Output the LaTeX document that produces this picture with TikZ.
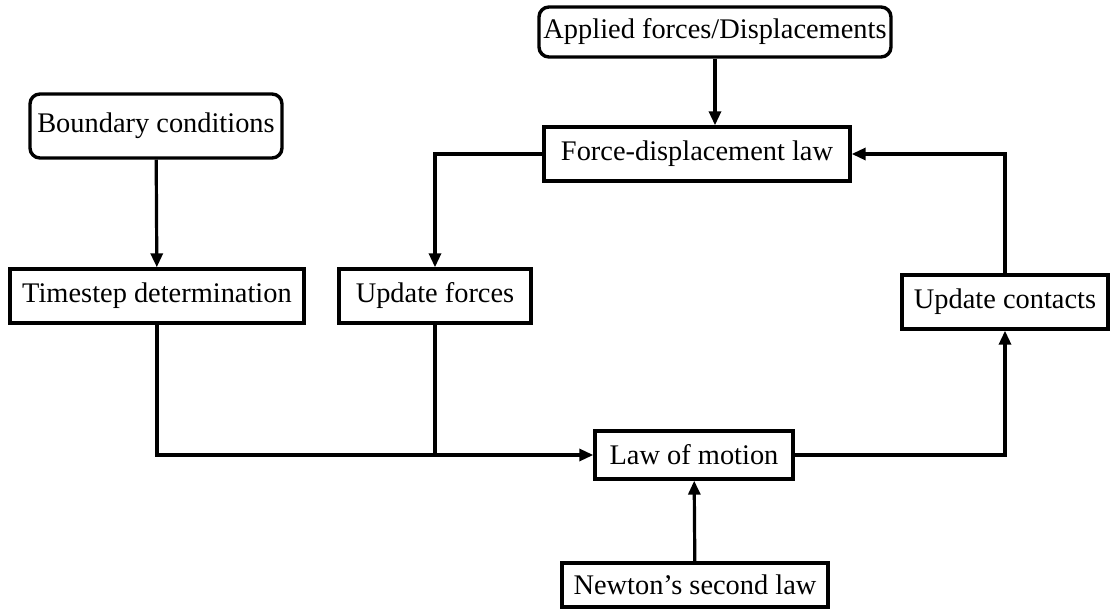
\documentclass[tikz,border=0pt]{standalone}
\usepackage{fontspec}
\setmainfont{Liberation Serif}
\usetikzlibrary{arrows.meta,positioning}

\begin{document}
\begin{tikzpicture}[x=0.5pt,y=-0.5pt,>={Triangle[length=7pt,width=6pt]},
  box/.style={draw,line width=1.7pt,inner sep=2pt,font=\fontsize{14.2}{16}\selectfont},
  rbox/.style={box,rounded corners=5pt},
  link/.style={line width=1.6pt}]
  \useasboundingbox (0,0) rectangle (1110,609);
% Inputs
  \node[rbox,minimum width=176pt,minimum height=25pt] (applied) at (715,32) {Applied forces/Displacements};
  \node[rbox,minimum width=126pt,minimum height=32pt] (boundary) at (156,126) {Boundary conditions};
% Cycle
  \node[box,minimum width=153pt,minimum height=27pt] (fdlaw) at (697,154) {Force-displacement law};
  \node[box,minimum width=147pt,minimum height=27pt] (timestep) at (157,296) {Timestep determination};
  \node[box,minimum width=96pt,minimum height=27pt] (updforces) at (435,296) {Update forces};
  \node[box,minimum width=103pt,minimum height=27pt] (updcontacts) at (1005,302) {Update contacts};
  \node[box,minimum width=99pt,minimum height=24pt] (motion) at (694,455) {Law of motion};
  \node[box,minimum width=133pt,minimum height=22pt] (newton) at (695,585) {Newton's second law};
% Connectors
  \draw[link,->] (applied) -- (applied |- fdlaw.north);
  \draw[link,->] (fdlaw.west) -| (updforces.north);
  \draw[link,->] (updcontacts.north) |- (fdlaw.east);
  \draw[link,->] (boundary) -- (timestep);
  \draw[link,->] (timestep.south) |- (motion.west);
  \draw[link] (updforces.south) -- (updforces.south |- motion.west);
  \draw[link,->] (motion.east) -| (updcontacts.south);
  \draw[link,->] (newton) -- (motion);
\end{tikzpicture}
\end{document}
